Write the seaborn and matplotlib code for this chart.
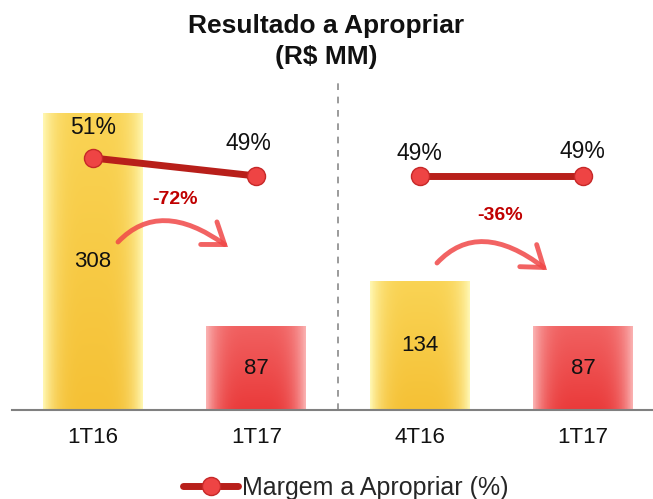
import numpy as np
import pandas as pd
import matplotlib
matplotlib.use("Agg")
import matplotlib.pyplot as plt
import seaborn as sns
from matplotlib.patches import FancyArrowPatch
from matplotlib.path import Path
from matplotlib.lines import Line2D

# ---- data ----
keys = ["p1", "p2", "p3", "p4"]
tick_labels = ["1T16", "1T17", "4T16", "1T17"]
resultado = [308, 87, 134, 87]
margem = [51, 49, 49, 49]
margem_labels = ["51%", "49%", "49%", "49%"]
variacoes = ["-72%", "-36%"]
bar_kind = ["base", "atual", "base", "atual"]

sns.set_theme(style="white")
plt.rcParams['font.family'] = ['Liberation Sans', 'DejaVu Sans']

W, H = 653, 499
fig = plt.figure(figsize=(W / 100, H / 100), dpi=100)

x_left, x_right = 12, 653
y_top, y_base = 80, 410
ax = fig.add_axes([x_left / W, (H - y_base) / H, (x_right - x_left) / W, (y_base - y_top) / H])

df = pd.DataFrame({"periodo": keys, "valor": resultado, "tipo": bar_kind})
palette = {"base": "#F5C63A", "atual": "#EE4A4A"}
sns.barplot(data=df, x="periodo", y="valor", hue="tipo", palette=palette,
            width=0.61, dodge=False, legend=False, ax=ax, saturation=1)

unit = 163.3
XL = ((x_left - 93) / unit, (x_right - 93) / unit)
YL = (0, (y_base - y_top) / 0.965)


def grad(c_edge, c_mid, c_top, c_bot):
    nx, ny = 64, 64
    xs = np.linspace(-1, 1, nx)
    ys = np.linspace(0, 1, ny)[:, None]
    e = np.array(matplotlib.colors.to_rgb(c_edge))
    t = np.array(matplotlib.colors.to_rgb(c_top))
    m = np.array(matplotlib.colors.to_rgb(c_mid))
    b = np.array(matplotlib.colors.to_rgb(c_bot))
    base = t[None, None, :] * (1 - ys[..., None]) + b[None, None, :] * ys[..., None]
    base = 0.5 * base + 0.5 * m[None, None, :]
    w = (np.abs(xs)[None, :] ** 4)
    img = base * (1 - w[..., None]) + e[None, None, :] * w[..., None]
    return np.clip(img, 0, 1)


for patch in list(ax.patches):
    x0, y0 = patch.get_x(), patch.get_y()
    w_, h_ = patch.get_width(), patch.get_height()
    if h_ <= 0:
        continue
    idx = int(round(x0 + w_ / 2))
    kind = bar_kind[idx]
    if kind == "base":
        img = grad("#FFF6B0", "#F8CD45", "#FBDA64", "#F2B526")
    else:
        img = grad("#FAB0B0", "#EF5050", "#F27070", "#E52525")
    im = ax.imshow(img, extent=[x0, x0 + w_, y0, y0 + h_], origin="upper",
                   aspect="auto", zorder=patch.get_zorder() + 0.1)
    im.set_clip_path(patch)
    ax.text(x0 + w_ / 2, y0 + h_ / 2, f"{resultado[idx]}", ha="center", va="center",
            fontsize=16, color="#111111", zorder=5)
ax.set_xlim(*XL)
ax.set_ylim(*YL)

ax.set_xticks(range(4))
ax.set_xticklabels(tick_labels, fontsize=16, color="#111111")
ax.tick_params(axis="x", length=0, pad=12)
ax.set_xlabel("")
ax.set_ylabel("")
ax.set_yticks([])
for s in ["top", "left", "right"]:
    ax.spines[s].set_visible(False)
ax.spines["bottom"].set_color("#808080")
ax.spines["bottom"].set_linewidth(1.5)

ax.axvline(1.5, color="#8a8a8a", linestyle=(0, (4, 4)), linewidth=1.2, zorder=1)

# line axis
ax2 = ax.twinx()
ax2.set_yticks([])
for s in ["top", "left", "right", "bottom"]:
    ax2.spines[s].set_visible(False)

line_kw = dict(color="#B81F1A", linewidth=5, marker="o", markersize=13,
               markerfacecolor="#EE4444", markeredgecolor="#C62828", markeredgewidth=1,
               solid_capstyle="round")
for pair in [(0, 1), (2, 3)]:
    sub = pd.DataFrame({"x": [pair[0], pair[1]], "m": [margem[pair[0]], margem[pair[1]]]})
    sns.lineplot(data=sub, x="x", y="m", ax=ax2, **line_kw)
ax2.set_xlabel("")
ax2.set_ylabel("")
ax2.set_xlim(*XL)
ax2.set_ylim(23, 23 + (y_base - y_top) / 9)

offsets = [(0, 30), (-8, 32), (0, 22), (0, 24)]
for i, (lab, off) in enumerate(zip(margem_labels, offsets)):
    ax2.annotate(lab, (i, margem[i]), xytext=off, textcoords="offset pixels",
                 ha="center", va="center", fontsize=16.5, color="#111111")


# arrows (quadratic curves given in pixel layout, converted to data coords)
def to_data(px, py):
    return ((px - 93) / unit, (y_base - py) / 0.965)


arrow_px = [[(118, 242), (160, 198), (228, 247)],
            [(437, 263), (479, 218), (547, 270)]]
var_pos = [(0.50, 218), (2.49, 202)]
for pts, txt, tp in zip(arrow_px, variacoes, var_pos):
    verts = [to_data(*p) for p in pts]
    path = Path(verts, [Path.MOVETO, Path.CURVE3, Path.CURVE3])
    arr = FancyArrowPatch(path=path,
                          arrowstyle="->,head_length=14,head_width=10",
                          color="#F04848", linewidth=3.5, alpha=0.85,
                          mutation_scale=1, zorder=4, capstyle="round",
                          joinstyle="miter")
    ax.add_patch(arr)
    ax.text(tp[0], tp[1], txt, ha="center", va="center", fontsize=14,
            fontweight="bold", color="#C00000", zorder=5)

fig.text(0.5, 1 - 33 / H, "Resultado a Apropriar", ha="center", va="baseline",
         fontsize=19, fontweight="bold", color="#111111")
fig.text(0.5, 1 - 64 / H, "(R$ MM)", ha="center", va="baseline",
         fontsize=19, fontweight="bold", color="#111111")

handle = Line2D([], [], **line_kw)
fig.legend([handle], ["Margem a Apropriar (%)"], loc="center",
           bbox_to_anchor=(0.53, 1 - 488 / H), frameon=False, fontsize=18,
           handlelength=2.2, handletextpad=0.15, borderpad=0)

fig.savefig("out.png", dpi=100)
